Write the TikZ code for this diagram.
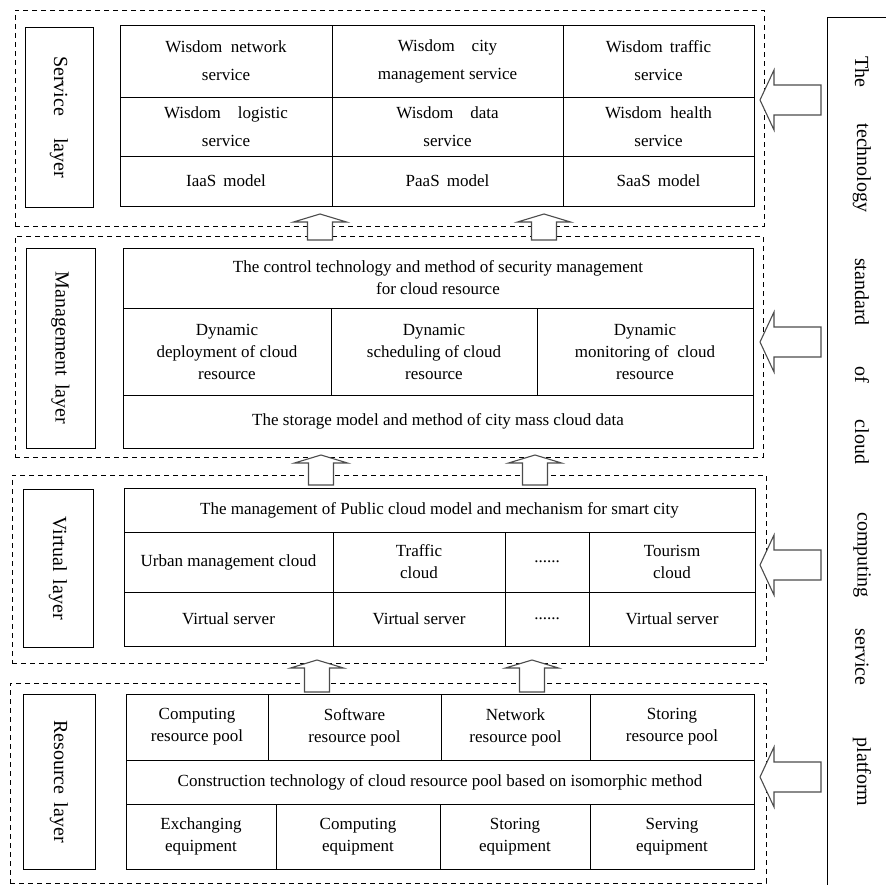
\documentclass[tikz,border=0pt]{standalone}
\usepackage{fontspec}
\setmainfont{Liberation Serif}
\usetikzlibrary{positioning,calc}
\tikzstyle{cell} = [rectangle, draw, line width=0.9pt, outer sep=0pt, inner sep=2pt,
  align=center, font=\fontsize{17}{22}\selectfont]
\tikzstyle{svc} = [cell, font=\fontsize{17}{28}\selectfont]
\tikzstyle{layer} = [rectangle, draw, dash pattern=on 5pt off 4pt, line width=0.9pt,
  outer sep=0pt, anchor=north west]
\tikzstyle{layerlabel} = [rectangle, draw, line width=0.9pt, rotate=-90, align=center,
  font=\fontsize{20}{24}\selectfont]
\tikzstyle{sideword} = [rotate=-90, font=\fontsize{20}{24}\selectfont]
\tikzstyle{fatup} = [draw=black!70, fill=white, line width=1.1pt,
  to path={let \p1=(\tikztostart), \p2=(\tikztotarget) in
    (\x1-12.5pt,\y1) -- (\x1-12.5pt,\y2-8pt) -- (\x1-26.5pt,\y2-8pt) -- (\x2,\y2)
    -- (\x1+26.5pt,\y2-8pt) -- (\x1+12.5pt,\y2-8pt) -- (\x1+12.5pt,\y1) -- cycle}]
\tikzstyle{fatleft} = [draw=black!70, fill=white, line width=1.1pt,
  to path={let \p1=(\tikztostart), \p2=(\tikztotarget) in
    (\x1,\y1-15pt) -- (\x2+14pt,\y1-15pt) -- (\x2+14pt,\y1-30pt) -- (\x2,\y1)
    -- (\x2+14pt,\y1+30pt) -- (\x2+14pt,\y1+15pt) -- (\x1,\y1+15pt) -- cycle}]

\begin{document}
\begin{tikzpicture}[x=1pt, y=-1pt]
  \useasboundingbox (0,0) rectangle (886,885);
  \clip (0,0) rectangle (886,885);

  % dashed layers
  \node (servbox) [layer, minimum width=749pt, minimum height=216pt] at (15,10) {};
  \node (mgmtbox) [layer, minimum width=748pt, minimum height=221pt] at (15,236) {};
  \node (virtbox) [layer, minimum width=754pt, minimum height=188pt] at (12,475) {};
  \node (resbox) [layer, minimum width=756pt, minimum height=200pt] at (10,683) {};

  % layer names
  \node (servlabel) [layerlabel, minimum width=180pt, minimum height=68pt] at (59,117) {Service\hspace{22pt}layer};
  \node (mgmtlabel) [layerlabel, minimum width=200pt, minimum height=69pt] at (60.5,348) {Management\hspace{8pt}layer};
  \node (virtlabel) [layerlabel, minimum width=158pt, minimum height=70pt] at (58,568) {Virtual\hspace{8pt}layer};
  \node (reslabel) [layerlabel, minimum width=175pt, minimum height=72pt] at (59,781.5) {Resource\hspace{8pt}layer};

  % service layer
  \node (s11) [svc, minimum width=212pt, minimum height=72pt, anchor=north west] at (120,25) {Wisdom\enspace network\\service};
  \node (s12) [svc, minimum width=231pt, minimum height=72pt, right=0pt of s11] {Wisdom\quad city\\management service};
  \node (s13) [svc, minimum width=191pt, minimum height=72pt, right=0pt of s12] {Wisdom\, traffic\\service};
  \node (s21) [svc, minimum width=212pt, minimum height=59pt, below=0pt of s11] {Wisdom\quad logistic\\service};
  \node (s22) [svc, minimum width=231pt, minimum height=59pt, below=0pt of s12] {Wisdom\quad data\\service};
  \node (s23) [svc, minimum width=191pt, minimum height=59pt, below=0pt of s13] {Wisdom\enspace health\\service};
  \node (s31) [cell, minimum width=212pt, minimum height=50pt, below=0pt of s21] {IaaS\, model};
  \node (s32) [cell, minimum width=231pt, minimum height=50pt, below=0pt of s22] {PaaS\, model};
  \node (s33) [cell, minimum width=191pt, minimum height=50pt, below=0pt of s23] {SaaS\, model};

  % management layer
  \node (m1) [cell, minimum width=630pt, minimum height=60pt, anchor=north west] at (123,248) {The control technology and method of security management\\for cloud resource};
  \node (m21) [cell, minimum width=208pt, minimum height=87pt, anchor=north west] at (m1.south west) {Dynamic\\deployment of cloud\\resource};
  \node (m22) [cell, minimum width=206pt, minimum height=87pt, right=0pt of m21] {Dynamic\\scheduling of cloud\\resource};
  \node (m23) [cell, minimum width=216pt, minimum height=87pt, right=0pt of m22] {Dynamic\\monitoring of\enspace cloud\\resource};
  \node (m3) [cell, minimum width=630pt, minimum height=53pt, anchor=north west] at (m21.south west) {The storage model and method of city mass cloud data};

  % virtual layer
  \node (v1) [cell, minimum width=631pt, minimum height=44pt, anchor=north west] at (124,488) {The management of Public cloud model and mechanism for smart city};
  \node (v21) [cell, minimum width=209pt, minimum height=60pt, anchor=north west] at (v1.south west) {Urban management cloud};
  \node (v22) [cell, minimum width=172pt, minimum height=60pt, right=0pt of v21] {Traffic\\cloud};
  \node (v23) [cell, minimum width=84pt, minimum height=60pt, right=0pt of v22] {......};
  \node (v24) [cell, minimum width=166pt, minimum height=60pt, right=0pt of v23] {Tourism\\cloud};
  \node (v31) [cell, minimum width=209pt, minimum height=54pt, below=0pt of v21] {Virtual server};
  \node (v32) [cell, minimum width=172pt, minimum height=54pt, below=0pt of v22] {Virtual server};
  \node (v33) [cell, minimum width=84pt, minimum height=54pt, below=0pt of v23] {......};
  \node (v34) [cell, minimum width=166pt, minimum height=54pt, below=0pt of v24] {Virtual server};

  % resource layer
  \node (r11) [cell, minimum width=142pt, minimum height=66pt, anchor=north west] at (126,694) {Computing\\resource pool};
  \node (r12) [cell, minimum width=173pt, minimum height=66pt, right=0pt of r11] {Software\\resource pool};
  \node (r13) [cell, minimum width=149pt, minimum height=66pt, right=0pt of r12] {Network\\resource pool};
  \node (r14) [cell, minimum width=164pt, minimum height=66pt, right=0pt of r13] {Storing\\resource pool};
  \node (r2) [cell, minimum width=628pt, minimum height=44pt, anchor=north west] at (r11.south west) {Construction technology of cloud resource pool based on isomorphic method};
  \node (r31) [cell, minimum width=150pt, minimum height=65pt, anchor=north west] at (r2.south west) {Exchanging\\equipment};
  \node (r32) [cell, minimum width=164pt, minimum height=65pt, right=0pt of r31] {Computing\\equipment};
  \node (r33) [cell, minimum width=150pt, minimum height=65pt, right=0pt of r32] {Storing\\equipment};
  \node (r34) [cell, minimum width=164pt, minimum height=65pt, right=0pt of r33] {Serving\\equipment};

  % platform column
  \node (platform) [draw, line width=0.9pt, outer sep=0pt, anchor=north west,
    minimum width=80pt, minimum height=900pt] at (827,17) {};
  \foreach \w/\y in {The/72, technology/168, standard/292, of/375, cloud/442,
    computing/555, service/657, platform/772}
    \node (word-\w) [sideword] at (862,\y) {\w};

  % arrows between layers
  \foreach \k/\x/\ya/\yb in {1/320/240/214, 2/544/240/214, 3/321/485/455,
    4/535/485/455, 5/317/692/660, 6/532/692/660} {
    \coordinate (upt\k) at (\x,\ya);
    \coordinate (uph\k) at (\x,\yb);
    \draw[fatup] (upt\k) to (uph\k);
  }
  % arrows from the platform
  \foreach \k/\y in {1/100, 2/342, 3/565, 4/777} {
    \coordinate (lt\k) at (821,\y);
    \coordinate (lh\k) at (760,\y);
    \draw[fatleft] (lt\k) to (lh\k);
  }
\end{tikzpicture}
\end{document}
